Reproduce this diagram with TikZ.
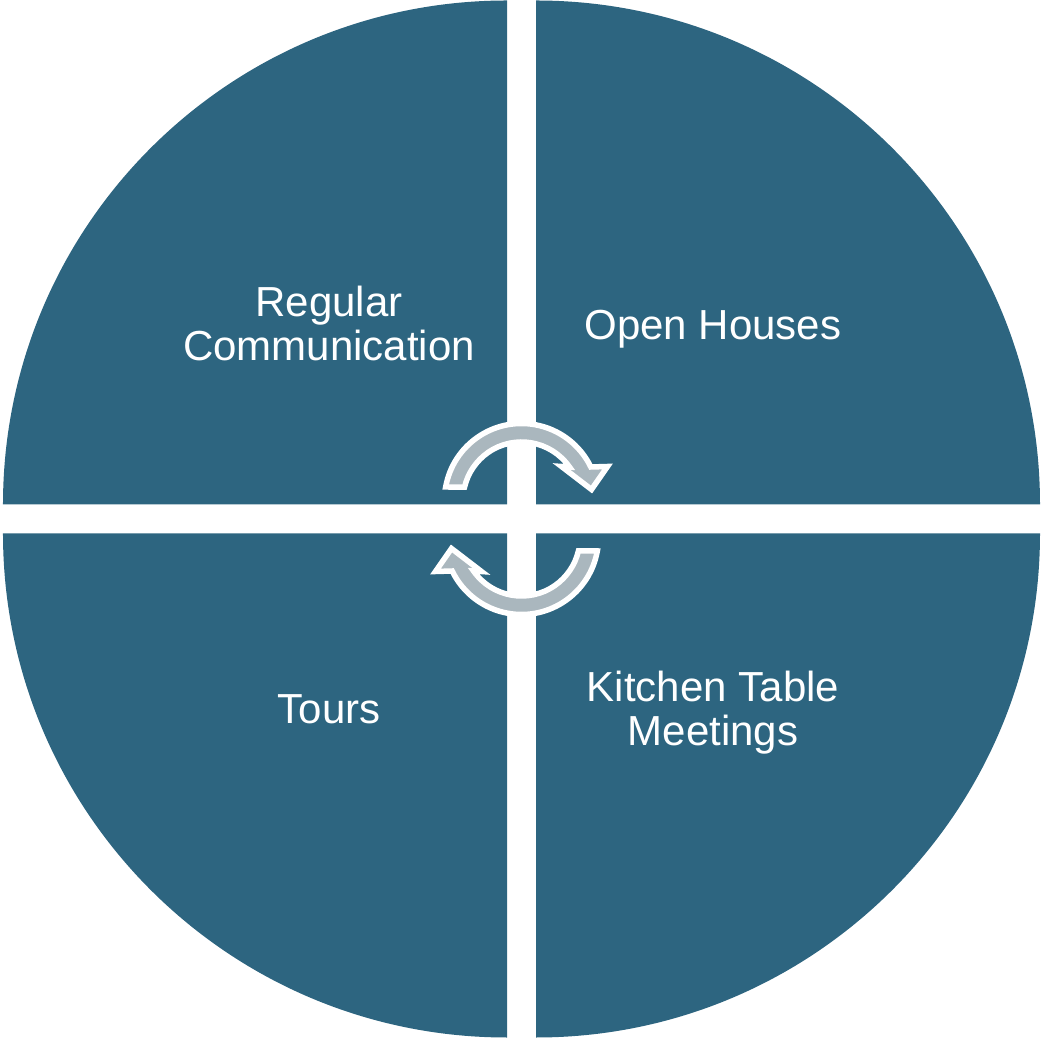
\documentclass[tikz,border=0pt]{standalone}
\usepackage{fontspec}
\setmainfont{Liberation Sans}
\definecolor{petrol}{RGB}{45,101,128}
\definecolor{ash}{RGB}{170,183,190}

\begin{document}
\begin{tikzpicture}[x=1pt,y=1pt,
  quart/.style={fill=petrol},
  cyclearrow/.style={fill=ash,draw=white,line width=5.5pt,line join=miter},
  quadtext/.style={text=white,font=\fontsize{42}{44}\selectfont,align=center,anchor=base}]
\useasboundingbox (-521.5,-521) rectangle (519.5,519);
\foreach \a in {0,90,180,270} {\fill[quart,rotate=\a] (14.5,14.5) -- ++(504,0) arc[start angle=0,end angle=90,radius=504pt] -- cycle;}
\foreach \a in {0,180} {
  \begin{scope}[rotate=\a,shift={(0,18.5)}]
  \filldraw[cyclearrow] (169.9:77pt) arc[start angle=169.9,end angle=25.8,radius=77pt] -- (86,34) -- (70,11) -- (40,34) -- (34.9:58.5pt) arc[start angle=34.9,end angle=166.7,radius=58.5pt] -- cycle;
  \end{scope}}
\node[quadtext] (regular) at (-192.5,158) {Regular\\Communication};
\node[quadtext] (open) at (191.5,179) {Open Houses};
\node[quadtext] (tours) at (-192.5,-205) {Tours};
\node[quadtext] (kitchen) at (191.5,-227) {Kitchen Table\\Meetings};
\end{tikzpicture}
\end{document}
